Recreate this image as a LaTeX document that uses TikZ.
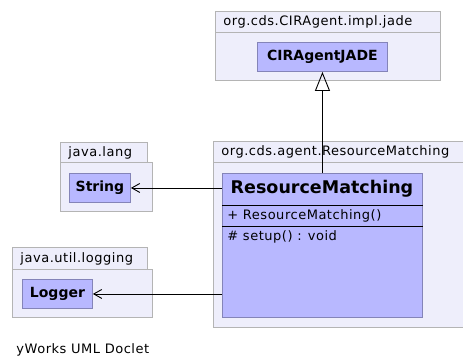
\documentclass[tikz,border=0pt]{standalone}
\usepackage{fontspec}
\setmainfont{DejaVu Sans}
\newfontfamily\umlfont[LetterSpace=4]{DejaVu Sans}
\usetikzlibrary{arrows.meta}
\tikzset{>={Straight Barb[length=8pt,width=9pt]}}
\definecolor{pkgfill}{HTML}{EEEEFB}
\definecolor{pkgline}{HTML}{B4B4B4}
\definecolor{clsfill}{HTML}{B8B8FF}
\definecolor{clsline}{HTML}{8484B8}
\tikzset{
  pkgbox/.style={draw=pkgline, fill=pkgfill, anchor=north west, inner sep=0pt},
  clsbox/.style={draw=clsline, fill=clsfill, anchor=north west, inner sep=0pt},
  pkglabel/.style={anchor=west, inner sep=0pt, font=\umlfont\fontsize{13}{15}\selectfont},
  clslabel/.style={inner sep=0pt, font=\fontsize{14}{16}\selectfont\bfseries},
  member/.style={anchor=west, inner sep=0pt, font=\umlfont\fontsize{13}{15}\selectfont},
  inherit/.style={-{Triangle[open,length=19pt,width=15pt]}, fill=white},
  dep/.style={->}
}
\begin{document}
\begin{tikzpicture}[x=1pt,y=-1pt,line width=0.9pt]
  \useasboundingbox (0,0) rectangle (463,360);

  %% org.cds.CIRAgent.impl.jade
  \node[pkgbox, minimum width=225, minimum height=21] (jadetab) at (215,11) {};
  \node[pkgbox, minimum width=225, minimum height=48] (jadepkg) at (215,32) {};
  \node[pkglabel] at ([xshift=8pt]jadetab.west) {org.cds.CIRAgent.impl.jade};
  \node[clsbox, minimum width=130, minimum height=29] (jade) at (257,42) {};
  \node[clslabel] at (jade) {CIRAgentJADE};

  %% org.cds.agent.ResourceMatching
  \node[pkgbox, minimum width=252, minimum height=21] (rmtab) at (213,141) {};
  \node[pkgbox, minimum width=252, minimum height=165] (rmpkg) at (213,162) {};
  \node[pkglabel] at ([xshift=8pt]rmtab.west) {org.cds.agent.ResourceMatching};
  \node[clsbox, minimum width=200, minimum height=144] (rm) at (222,173) {};
  \node[inner sep=0pt, font=\fontsize{17.5}{20}\selectfont\bfseries]
    at (322,189) {ResourceMatching};
  \draw[black] (rm.west |- 0,205) -- (rm.east |- 0,205);
  \draw[black] (rm.west |- 0,226) -- (rm.east |- 0,226);
  \node[member] at (227,215.5) {+ ResourceMatching()};
  \node[member] at (227,237) {\# setup() : void};

  %% java.lang
  \node[pkgbox, minimum width=87, minimum height=20] (langtab) at (60,142) {};
  \node[pkgbox, minimum width=92, minimum height=49] (langpkg) at (60,162) {};
  \node[pkglabel] at ([xshift=8pt]langtab.west) {java.lang};
  \node[clsbox, minimum width=61, minimum height=29] (str) at (69,173) {};
  \node[clslabel] at (str) {String};

  %% java.util.logging
  \node[pkgbox, minimum width=135, minimum height=22] (logtab) at (12,247) {};
  \node[pkgbox, minimum width=140, minimum height=48] (logpkg) at (12,269) {};
  \node[pkglabel] at ([xshift=8pt]logtab.west) {java.util.logging};
  \node[clsbox, minimum width=70, minimum height=29] (lg) at (22,279) {};
  \node[clslabel] at (lg) {Logger};

  \draw[inherit] (rm.north -| jade.south) -- (jade.south);
  \draw[dep] (rm.west |- str.east) -- (str.east);
  \draw[dep] (rm.west |- lg.east) -- (lg.east);

  \node[anchor=west, inner sep=0pt, font=\umlfont\fontsize{13}{15}\selectfont]
    (credit) at (16,350) {yWorks UML Doclet};

\end{tikzpicture}
\end{document}
